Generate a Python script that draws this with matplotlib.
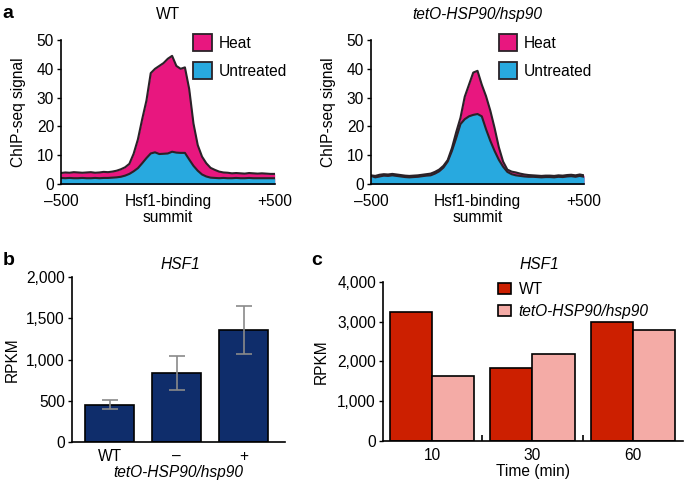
import numpy as np
import matplotlib
matplotlib.use("Agg")
import matplotlib.pyplot as plt
from matplotlib.patches import Patch

FS = 11.2
plt.rcParams['font.family'] = ['Liberation Sans', 'DejaVu Sans']
plt.rcParams['font.size'] = FS

# ---------------- data ----------------
positions = [-500, -480, -460, -440, -420, -400, -380, -360, -340, -320, -300,
             -280, -260, -240, -220, -200, -180, -160, -140, -120, -100,
             -80, -60, -40, -20, 0, 20, 40, 60, 80, 100,
             120, 140, 160, 180, 200, 220, 240, 260, 280, 300,
             320, 340, 360, 380, 400, 420, 440, 460, 480, 500]

wt_heat = [3.8, 4.0, 3.9, 4.1, 4.0, 3.9, 4.0, 4.1, 3.9, 4.0, 4.2,
           4.1, 4.3, 4.6, 5.1, 5.8, 7.0, 10.5, 15.5, 22.5, 29.0,
           38.5, 40.0, 41.0, 42.0, 43.5, 44.5, 41.0, 40.0, 40.5, 33.0,
           21.0, 13.5, 9.5, 7.2, 5.6, 4.9, 4.3, 4.0, 3.9, 3.7,
           3.8, 3.7, 3.6, 3.8, 3.7, 3.6, 3.7, 3.6, 3.5, 3.5]

wt_untreated = [2.1, 2.0, 2.1, 2.0, 2.0, 2.1, 2.0, 2.0, 2.1, 2.0, 2.1,
                2.1, 2.2, 2.3, 2.5, 2.9, 3.5, 4.4, 5.5, 7.2, 9.0,
                10.6, 11.0, 10.4, 10.5, 10.6, 11.2, 10.9, 10.8, 10.8, 8.5,
                6.3, 4.6, 3.3, 2.6, 2.2, 2.1, 2.0, 2.1, 2.0, 2.0,
                2.1, 2.0, 2.0, 2.1, 2.0, 2.0, 2.0, 2.0, 2.0, 2.0]

teto_heat = [3.0, 2.8, 3.2, 3.4, 3.3, 3.5, 3.3, 3.1, 2.9, 2.8, 2.9,
             3.0, 3.2, 3.4, 3.6, 4.2, 5.0, 6.3, 8.3, 12.5, 18.0,
             23.0, 30.3, 34.5, 38.7, 39.3, 34.5, 30.5, 25.5, 19.5, 12.8,
             7.8, 5.0, 4.3, 4.0, 3.6, 3.3, 3.1, 3.0, 2.9, 2.8,
             2.9, 2.9, 2.8, 3.0, 2.9, 3.1, 3.2, 3.0, 3.3, 3.0]

teto_untreated = [2.8, 2.3, 2.6, 2.9, 2.8, 3.0, 2.8, 2.6, 2.4, 2.3, 2.4,
                  2.5, 2.7, 2.9, 3.0, 3.6, 4.4, 5.7, 7.8, 11.5, 16.0,
                  20.8, 22.5, 23.5, 24.0, 24.3, 23.5, 19.0, 15.0, 11.5, 8.4,
                  6.0, 4.2, 3.4, 3.0, 2.8, 2.6, 2.5, 2.5, 2.4, 2.3,
                  2.4, 2.4, 2.3, 2.5, 2.4, 2.6, 2.7, 2.5, 2.8, 2.5]

b_categories = ['WT', '\u2013', '+']
b_values = [455, 836, 1360]
b_errors = [50, 206, 287]

c_times = ['10', '30', '60']
c_wt = [3250, 1840, 3000]
c_teto = [1640, 2200, 2780]

# ---------------- style ----------------
MAGENTA = '#e8177f'
CYAN = '#28a9df'
NAVY = '#0f2d6b'
RED = '#cc1f00'
PINK = '#f4aba6'
LINE = '#2a2228'

fig = plt.figure(figsize=(6.85, 4.88), dpi=100)


def style_axes(ax):
    for s in ['top', 'right']:
        ax.spines[s].set_visible(False)
    for s in ['left', 'bottom']:
        ax.spines[s].set_linewidth(1.2)
        ax.spines[s].set_color('black')
    ax.tick_params(axis='y', direction='out', length=3, width=1.0, pad=2, labelsize=FS)


def profile(ax, heat, untr, leg_x, lab_x):
    ax.fill_between(positions, 0, heat, color=MAGENTA, linewidth=0)
    ax.fill_between(positions, 0, untr, color=CYAN, linewidth=0)
    ax.plot(positions, heat, color=LINE, lw=1.5)
    ax.plot(positions, untr, color=LINE, lw=1.5)
    ax.set_xlim(-500, 500)
    ax.set_ylim(0, 50)
    ax.set_yticks([0, 10, 20, 30, 40, 50])
    ax.set_xticks([-500, 0, 500])
    ax.set_xticklabels(['\u2013500', 'Hsf1-binding\nsummit', '+500'], linespacing=1.15)
    ax.tick_params(axis='x', length=0, pad=7, labelsize=FS)
    style_axes(ax)
    ax.set_ylabel('ChIP-seq signal')
    ax.yaxis.set_label_coords(lab_x, 0.5)
    handles = [Patch(facecolor=MAGENTA, edgecolor=LINE, linewidth=1.3, label='Heat'),
               Patch(facecolor=CYAN, edgecolor=LINE, linewidth=1.3, label='Untreated')]
    ax.legend(handles=handles, loc='upper left', bbox_to_anchor=(leg_x, 1.04),
              frameon=False, borderpad=0, borderaxespad=0, handlelength=1.2,
              handleheight=1.25, handletextpad=0.4, labelspacing=0.75, fontsize=FS)


ax1 = fig.add_axes([0.089, 0.623, 0.312, 0.295])
profile(ax1, wt_heat, wt_untreated, 0.62, -0.163)
fig.text(0.245, 0.971, 'WT', ha='center', va='center', fontsize=FS)

ax2 = fig.add_axes([0.5416, 0.623, 0.311, 0.295])
profile(ax2, teto_heat, teto_untreated, 0.60, -0.164)
fig.text(0.697, 0.971, 'tetO-HSP90/hsp90', ha='center', va='center', fontsize=FS,
         style='italic')

# ---------------- panel b ----------------
ax3 = fig.add_axes([0.105, 0.094, 0.311, 0.338])
xb = np.arange(len(b_categories))
ax3.bar(xb, b_values, width=0.73, color=NAVY, edgecolor='black', linewidth=1.2, zorder=2)
ax3.errorbar(xb, b_values, yerr=b_errors, fmt='none', ecolor='#8a8a8a', elinewidth=1.2,
             capsize=6, capthick=1.2, zorder=3)
ax3.set_xlim(-0.56, 2.61)
ax3.set_ylim(0, 2000)
ax3.set_yticks([0, 500, 1000, 1500, 2000])
ax3.set_yticklabels(['0', '500', '1,000', '1,500', '2,000'])
ax3.set_xticks(xb)
ax3.set_xticklabels(b_categories)
ax3.tick_params(axis='x', length=0, pad=5, labelsize=FS)
style_axes(ax3)
ax3.set_ylabel('RPKM')
ax3.yaxis.set_label_coords(-0.244, 0.5)
ax3.set_xlabel('tetO-HSP90/hsp90', style='italic', labelpad=0.5)
fig.text(0.263, 0.457, 'HSF1', style='italic', fontsize=FS, ha='center', va='center')

# ---------------- panel c ----------------
ax4 = fig.add_axes([0.559, 0.0963, 0.438, 0.326])
xc = np.arange(len(c_times))
bw = 0.42
ax4.bar(xc - bw / 2, c_wt, width=bw, color=RED, edgecolor='black', linewidth=1.2,
        label='WT', zorder=2)
ax4.bar(xc + bw / 2, c_teto, width=bw, color=PINK, edgecolor='black', linewidth=1.2,
        label='tetO-HSP90/hsp90', zorder=2)
ax4.set_xlim(-0.49, 2.5)
ax4.set_ylim(0, 4000)
ax4.set_yticks([0, 1000, 2000, 3000, 4000])
ax4.set_yticklabels(['0', '1,000', '2,000', '3,000', '4,000'])
ax4.set_xticks(xc)
ax4.set_xticklabels(c_times)
ax4.set_xticks([0.5, 1.5], minor=True)
ax4.tick_params(axis='x', which='major', length=0, pad=5, labelsize=FS)
ax4.tick_params(axis='x', which='minor', direction='in', length=4, width=1.2)
style_axes(ax4)
ax4.set_ylabel('RPKM')
ax4.yaxis.set_label_coords(-0.18, 0.5)
ax4.set_xlabel('Time (min)', labelpad=1)
leg = ax4.legend(loc='upper left', bbox_to_anchor=(0.385, 1.0), frameon=False,
                 borderpad=0, borderaxespad=0, handlelength=0.8, handleheight=0.8,
                 handletextpad=0.5, labelspacing=0.45, fontsize=FS)
leg.get_texts()[1].set_style('italic')
fig.text(0.787, 0.457, 'HSF1', style='italic', fontsize=FS, ha='center', va='center')

# panel letters
fig.text(0.004, 0.973, 'a', fontsize=14, fontweight='bold', va='center')
fig.text(0.004, 0.467, 'b', fontsize=14, fontweight='bold', va='center')
fig.text(0.455, 0.467, 'c', fontsize=14, fontweight='bold', va='center')

fig.savefig('out.png', dpi=100)
